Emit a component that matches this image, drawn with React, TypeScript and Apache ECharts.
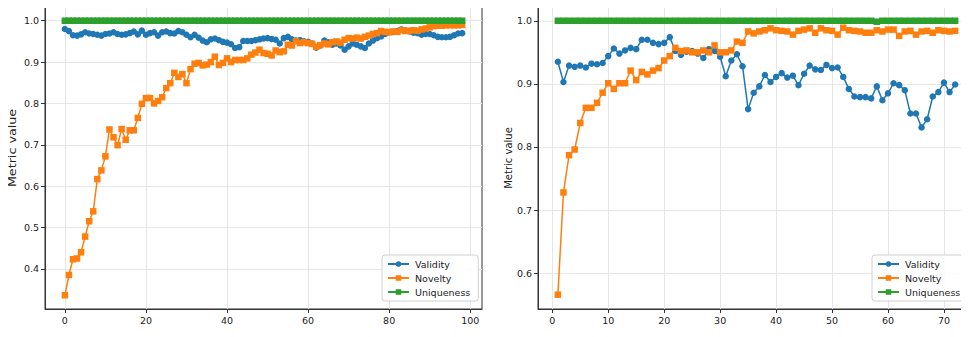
import React, { useEffect, useRef } from "react";
import * as echarts from "echarts";

// ---------- Data ----------
const leftEpochs: number[] = Array.from({ length: 99 }, (_, i) => i);
const rightEpochs: number[] = Array.from({ length: 72 }, (_, i) => i + 1);

const leftValidity: number[] = [
  0.980, 0.975, 0.965, 0.964, 0.967, 0.972, 0.969, 0.968, 0.966, 0.964,
  0.968, 0.969, 0.972, 0.968, 0.966, 0.967, 0.970, 0.974, 0.967, 0.976,
  0.966, 0.970, 0.972, 0.964, 0.972, 0.974, 0.970, 0.969, 0.975, 0.972,
  0.966, 0.960, 0.966, 0.959, 0.952, 0.948, 0.955, 0.957, 0.953, 0.949,
  0.947, 0.943, 0.934, 0.936, 0.951, 0.951, 0.951, 0.953, 0.955, 0.957,
  0.958, 0.956, 0.954, 0.945, 0.958, 0.961, 0.955, 0.952, 0.953, 0.950,
  0.949, 0.945, 0.935, 0.940, 0.952, 0.948, 0.942, 0.945, 0.940, 0.930,
  0.938, 0.945, 0.942, 0.938, 0.934, 0.945, 0.952, 0.958, 0.962, 0.968,
  0.972, 0.973, 0.975, 0.979, 0.976, 0.974, 0.971, 0.970, 0.966, 0.968,
  0.968, 0.965, 0.961, 0.960, 0.960, 0.961, 0.965, 0.969, 0.970,
];

const leftNovelty: number[] = [
  0.336, 0.385, 0.423, 0.425, 0.440, 0.478, 0.515, 0.539, 0.617, 0.638,
  0.672, 0.737, 0.718, 0.699, 0.738, 0.712, 0.735, 0.735, 0.765, 0.799,
  0.813, 0.813, 0.800, 0.806, 0.815, 0.837, 0.849, 0.874, 0.864, 0.871,
  0.849, 0.883, 0.896, 0.898, 0.892, 0.894, 0.900, 0.913, 0.893, 0.898,
  0.909, 0.900, 0.905, 0.905, 0.905, 0.909, 0.918, 0.923, 0.930, 0.922,
  0.920, 0.916, 0.928, 0.924, 0.926, 0.942, 0.940, 0.950, 0.946, 0.948,
  0.946, 0.944, 0.937, 0.941, 0.945, 0.943, 0.948, 0.950, 0.947, 0.954,
  0.958, 0.957, 0.959, 0.957, 0.961, 0.964, 0.968, 0.970, 0.975, 0.973,
  0.972, 0.974, 0.973, 0.977, 0.975, 0.976, 0.977, 0.976, 0.979, 0.981,
  0.984, 0.987, 0.988, 0.988, 0.989, 0.989, 0.989, 0.989, 0.990,
];

const leftUniqueness: number[] = [
  1, 1, 1, 1, 1, 1, 1, 1, 1, 1, 1, 1, 1, 1, 1, 1, 1, 1, 1, 1,
  1, 1, 1, 1, 1, 1, 1, 1, 1, 1, 1, 1, 1, 1, 1, 1, 1, 1, 1, 1,
  1, 1, 1, 1, 1, 1, 1, 1, 1, 1, 1, 1, 1, 1, 1, 1, 1, 1, 1, 1,
  1, 1, 1, 1, 1, 1, 1, 1, 1, 1, 1, 1, 1, 1, 1, 1, 1, 1, 1, 1,
  1, 1, 1, 1, 1, 1, 1, 1, 1, 1, 1, 1, 1, 1, 1, 1, 1, 1, 1,
];

const rightValidity: number[] = [
  0.935, 0.903, 0.929, 0.927, 0.929, 0.926, 0.932, 0.931, 0.933, 0.944,
  0.956, 0.948, 0.953, 0.957, 0.955, 0.970, 0.970, 0.965, 0.963, 0.965,
  0.974, 0.952, 0.946, 0.951, 0.952, 0.948, 0.941, 0.955, 0.952, 0.943,
  0.912, 0.937, 0.947, 0.928, 0.860, 0.886, 0.896, 0.914, 0.903, 0.911,
  0.917, 0.910, 0.913, 0.898, 0.916, 0.929, 0.923, 0.922, 0.930, 0.925,
  0.926, 0.911, 0.892, 0.880, 0.879, 0.879, 0.877, 0.896, 0.874, 0.885,
  0.901, 0.898, 0.890, 0.853, 0.853, 0.831, 0.844, 0.880, 0.887, 0.902,
  0.887, 0.899,
];

const rightNovelty: number[] = [
  0.566, 0.728, 0.787, 0.796, 0.838, 0.862, 0.862, 0.870, 0.886, 0.901,
  0.892, 0.901, 0.901, 0.921, 0.906, 0.919, 0.915, 0.921, 0.925, 0.937,
  0.944, 0.957, 0.952, 0.953, 0.950, 0.950, 0.953, 0.950, 0.961, 0.950,
  0.950, 0.953, 0.967, 0.965, 0.983, 0.980, 0.983, 0.985, 0.988, 0.985,
  0.984, 0.983, 0.978, 0.984, 0.986, 0.988, 0.981, 0.988, 0.985, 0.984,
  0.978, 0.989, 0.985, 0.984, 0.983, 0.981, 0.981, 0.985, 0.983, 0.986,
  0.986, 0.976, 0.983, 0.984, 0.978, 0.983, 0.984, 0.981, 0.985, 0.984,
  0.983, 0.984,
];

const rightUniqueness: number[] = [
  1, 1, 1, 1, 1, 1, 1, 1, 1, 1, 1, 1, 1, 1, 1, 1, 1, 1, 1, 1,
  1, 1, 1, 1, 1, 1, 1, 1, 1, 1, 1, 1, 1, 1, 1, 1, 1, 1, 1, 1,
  1, 1, 1, 1, 1, 1, 1, 1, 1, 1, 1, 1, 1, 1, 1, 1, 1, 0.9985, 1, 1,
  1, 1, 1, 1, 1, 1, 1, 1, 1, 1, 1, 1,
];

const seriesNames = ["Validity", "Novelty", "Uniqueness"];
const leftXTicks = [0, 20, 40, 60, 80, 100];
const rightXTicks = [0, 10, 20, 30, 40, 50, 60, 70];
const leftYTicks = [0.4, 0.5, 0.6, 0.7, 0.8, 0.9, 1.0];
const rightYTicks = [0.6, 0.7, 0.8, 0.9, 1.0];
const xAxisTitle = "Epochs";
const yAxisTitle = "Metric value";

// ---------- Styling ----------
const COLORS = ["#1f77b4", "#ff7f0e", "#2ca02c"];
const SYMBOLS = ["circle", "rect", "rect"];
const FONT = "DejaVu Sans";
const TEXT = "#222";

function pairs(xs: number[], ys: number[]) {
  return xs.map((x, i) => [x, ys[i]]);
}

export default function App() {
  const ref = useRef<HTMLDivElement>(null);

  useEffect(() => {
    if (!ref.current) return;
    const chart = echarts.init(ref.current, undefined, { renderer: "svg" });

    const axisCommon = {
      axisLine: { show: true, onZero: false, lineStyle: { color: "#333", width: 1 } },
      splitLine: { show: true, lineStyle: { color: "#e6e6e6", width: 1 } },
    };

    const xAxis = (gridIndex: number, min: number, max: number, ticks: number[]) => ({
      type: "value",
      gridIndex,
      min,
      max,
      axisTick: { show: true, inside: false, length: 4, customValues: ticks, lineStyle: { color: "#333", width: 1 } },
      axisLabel: {
        customValues: ticks,
        fontFamily: FONT,
        fontSize: 9.5,
        color: TEXT,
        margin: 6,
        formatter: (v: number) => String(Math.round(v)),
      },
      ...axisCommon,
    });

    const yAxis = (gridIndex: number, min: number, max: number, ticks: number[]) => ({
      type: "value",
      gridIndex,
      min,
      max,
      axisTick: { show: true, inside: false, length: 4, customValues: ticks, lineStyle: { color: "#333", width: 1 } },
      axisLabel: {
        customValues: ticks,
        fontFamily: FONT,
        fontSize: 9.5,
        color: TEXT,
        margin: 6,
        formatter: (v: number) => v.toFixed(1),
      },
      ...axisCommon,
    });

    const makeSeries = (xAxisIndex: number, xs: number[], data: number[][]) =>
      data.map((ys, k) => ({
        type: "line",
        name: seriesNames[k],
        xAxisIndex,
        yAxisIndex: xAxisIndex,
        data: pairs(xs, ys),
        symbol: SYMBOLS[k],
        symbolSize: 6.5,
        showSymbol: true,
        color: COLORS[k],
        lineStyle: { width: 1.5, color: COLORS[k] },
        itemStyle: { color: COLORS[k] },
        emphasis: { disabled: true },
      }));

    const legendCommon = {
      orient: "vertical",
      data: seriesNames,
      itemWidth: 21,
      itemHeight: 7,
      itemGap: 4,
      backgroundColor: "rgba(255,255,255,0.85)",
      borderColor: "#d0d0d0",
      borderWidth: 1,
      borderRadius: 3,
      padding: [4, 8, 4, 5],
      textStyle: { fontFamily: FONT, fontSize: 9.5, color: TEXT, padding: [0, 0, 0, 1] },
      selectedMode: false,
    };

    const title = (text: string, x: number, y: number, size: number, vertical: boolean, stretch: number) => ({
      type: "text",
      x,
      y,
      rotation: vertical ? Math.PI / 2 : 0,
      scaleX: stretch,
      scaleY: 1,
      silent: true,
      z: 100,
      style: {
        text,
        fontFamily: FONT,
        fontSize: size,
        fill: TEXT,
        align: "center",
        verticalAlign: vertical ? "middle" : "top",
      },
    });

    const gridCommon = {
      top: 7,
      bottom: 28,
      show: true,
      borderColor: "#333",
      borderWidth: 1,
      containLabel: false,
      outerBoundsMode: "none",
    };

    chart.setOption({
      animation: false,
      backgroundColor: "#fff",
      textStyle: { fontFamily: FONT },
      grid: [
        { ...gridCommon, left: 45, right: 487 },
        { ...gridCommon, left: 538, right: -6 },
      ],
      xAxis: [xAxis(0, -4.9, 102.9, leftXTicks), xAxis(1, -2.55, 75.55, rightXTicks)],
      yAxis: [yAxis(0, 0.3028, 1.0332, leftYTicks), yAxis(1, 0.5433, 1.0218, rightYTicks)],
      legend: [
        { ...legendCommon, left: 382, top: 255 },
        { ...legendCommon, left: 872, top: 255 },
      ],
      graphic: {
        elements: [
          title(yAxisTitle, 13, 148, 10, true, 1.27),
          title(yAxisTitle, 508, 158, 10, true, 1),
          title(xAxisTitle, 263, 327, 9.5, false, 1),
          title(xAxisTitle, 757, 327, 9.5, false, 1),
        ],
      },
      series: [
        ...makeSeries(0, leftEpochs, [leftValidity, leftNovelty, leftUniqueness]),
        ...makeSeries(1, rightEpochs, [rightValidity, rightNovelty, rightUniqueness]),
      ],
    });

    return () => chart.dispose();
  }, []);

  return <div ref={ref} style={{ width: 969, height: 337, margin: -8 }} />;
}
